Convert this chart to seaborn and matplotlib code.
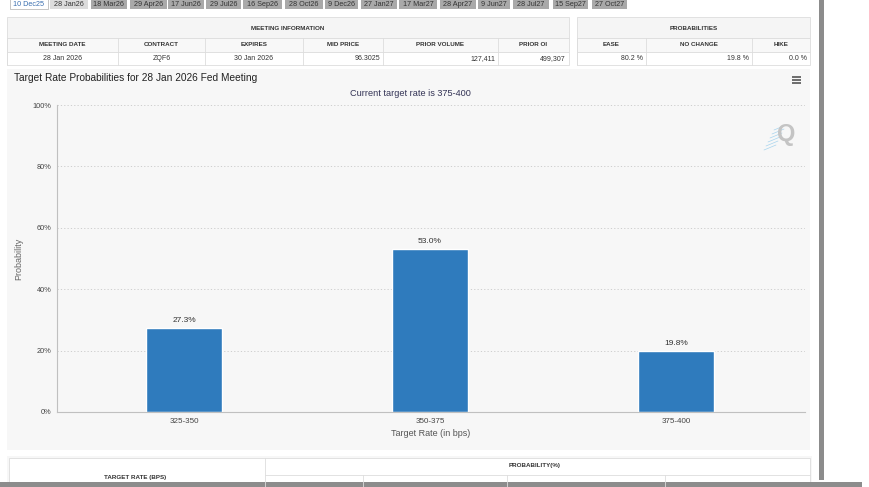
import matplotlib
matplotlib.use("Agg")
import matplotlib.pyplot as plt
from matplotlib.patches import Rectangle
import seaborn as sns
import pandas as pd

# data
tabs = ["10 Dec25", "28 Jan26", "18 Mar26", "29 Apr26", "17 Jun26", "29 Jul26",
        "16 Sep26", "28 Oct26", "9 Dec26", "27 Jan27", "17 Mar27", "28 Apr27",
        "9 Jun27", "28 Jul27", "15 Sep27", "27 Oct27"]
info_cols = ["MEETING DATE", "CONTRACT", "EXPIRES", "MID PRICE", "PRIOR VOLUME", "PRIOR OI"]
info_vals = ["28 Jan 2026", "ZQF6", "30 Jan 2026", "96.3025", "127,411", "499,307"]
prob_cols = ["EASE", "NO CHANGE", "HIKE"]
prob_vals = ["80.2 %", "19.8 %", "0.0 %"]
rates = ["325-350", "350-375", "375-400"]
probs = [27.3, 53.0, 19.8]
current_rate = "375-400"
meeting = "28 Jan 2026"

# page layout (pixels)
tab_x = [(10, 48), (50, 88), (91, 127), (130, 167), (168, 204), (206, 241), (243, 282),
         (285, 323), (325, 358), (361, 397), (399, 437), (440, 476), (478, 510),
         (513, 549), (553, 588), (592, 627)]
info_x = [7, 118, 205, 303, 383, 498, 569]
info_align = ["center", "center", "center", "right", "right", "right"]
prob_x = [577, 646, 752, 810]

sns.set_style("white")
plt.rcParams['font.family'] = ['Liberation Sans', 'DejaVu Sans']

fig = plt.figure(figsize=(8.7, 4.87), dpi=100)
fig.patch.set_facecolor("white")

bg = fig.add_axes([0, 0, 1, 1])
bg.set_xlim(0, 870)
bg.set_ylim(487, 0)
bg.axis("off")


def box(x0, y0, x1, y1, fc, ec="none", lw=0.6):
    bg.add_patch(Rectangle((x0, y0), x1 - x0, y1 - y0, facecolor=fc, edgecolor=ec, lw=lw))


# tabs
for i, (lab, (x0, x1)) in enumerate(zip(tabs, tab_x)):
    fc = "white" if i == 0 else ("#dcdcdc" if i == 1 else "#a9a9a9")
    tc = "#3a6fb0" if i == 0 else "#333333"
    box(x0, -2, x1, 9, fc, "#bbbbbb" if i == 0 else "none")
    bg.text((x0 + x1) / 2, 5.5, lab, ha="center", va="baseline", fontsize=5.2, color=tc)

# meeting information table
box(info_x[0], 17, info_x[-1], 38, "#f5f5f5", "#dddddd")
box(info_x[0], 38, info_x[-1], 52, "#f8f8f8", "#dddddd")
box(info_x[0], 52, info_x[-1], 65, "white", "#dddddd")
bg.text((info_x[0] + info_x[-1]) / 2, 28, "MEETING INFORMATION", ha="center", va="center",
        fontsize=4.5, fontweight="bold", color="#333")
for j, (c, v, al) in enumerate(zip(info_cols, info_vals, info_align)):
    x0, x1 = info_x[j], info_x[j + 1]
    bg.plot([x0, x0], [38, 65], color="#dddddd", lw=0.6)
    bg.text((x0 + x1) / 2, 45, c, ha="center", va="center", fontsize=4.5,
            fontweight="bold", color="#333")
    tx = (x0 + x1) / 2 if al == "center" else x1 - 3
    bg.text(tx, 58.5, v, ha=al, va="center", fontsize=5, color="#333")

# probabilities table
box(prob_x[0], 17, prob_x[-1], 38, "#f5f5f5", "#dddddd")
box(prob_x[0], 38, prob_x[-1], 52, "#f8f8f8", "#dddddd")
box(prob_x[0], 52, prob_x[-1], 65, "white", "#dddddd")
bg.text((prob_x[0] + prob_x[-1]) / 2, 28, "PROBABILITIES", ha="center", va="center",
        fontsize=4.5, fontweight="bold", color="#333")
for j, (c, v) in enumerate(zip(prob_cols, prob_vals)):
    x0, x1 = prob_x[j], prob_x[j + 1]
    bg.plot([x0, x0], [38, 65], color="#dddddd", lw=0.6)
    bg.text((x0 + x1) / 2, 45, c, ha="center", va="center", fontsize=4.5,
            fontweight="bold", color="#333")
    bg.text(x1 - 3, 58.5, v, ha="right", va="center", fontsize=5, color="#333")

# chart panel
box(7, 69, 810, 450, "#f7f7f7")
bg.text(14, 78, f"Target Rate Probabilities for {meeting} Fed Meeting", ha="left",
        va="center", fontsize=7.3, color="#222")
bg.text(410, 93, f"Current target rate is {current_rate}", ha="center", va="center",
        fontsize=6.6, color="#333355")
for yy in (77, 80, 83):
    bg.plot([792, 801], [yy, yy], color="#555", lw=1.2, solid_capstyle="butt")
bg.text(786, 134, "Q", ha="center", va="center", fontsize=17, fontweight="bold", color="#c4c4c4")
for k in range(6):
    bg.plot([764 + k * 2, 776 + k * 2], [150 - k * 4, 145 - k * 4], color="#a8d4ee", lw=0.5)

# bottom table
box(7, 456, 812, 487, "#f7f7f7")
box(9, 458, 810, 487, "white", "#dddddd")
bg.plot([265, 265], [458, 487], color="#dddddd", lw=0.6)
bg.plot([265, 810], [475, 475], color="#dddddd", lw=0.6)
for xx in (363, 507, 665):
    bg.plot([xx, xx], [475, 487], color="#dddddd", lw=0.6)
bg.text(135, 477, "TARGET RATE (BPS)", ha="center", va="center", fontsize=4.5,
        fontweight="bold", color="#333")
bg.text(535, 466, "PROBABILITY(%)", ha="center", va="center", fontsize=4.5,
        fontweight="bold", color="#333")

# scrollbars
box(819, 0, 824, 480, "#8c8c8c")
box(0, 482, 862, 487, "#8c8c8c")

# bar chart
ax = fig.add_axes([57 / 870, 1 - 412 / 487, (805 - 57) / 870, (412 - 105) / 487])
ax.set_facecolor("none")
df = pd.DataFrame({"rate": rates, "prob": probs})
sns.barplot(data=df, x="rate", y="prob", color="#2f7bbd", saturation=1, width=0.31, ax=ax)
ax.set_ylim(0, 100)
ax.set_xlim(-0.516, 2.524)
ax.set_yticks(range(0, 101, 20))
ax.set_yticklabels([f"{t}%" for t in range(0, 101, 20)])
ax.yaxis.grid(True, linestyle=(0, (1.5, 2.5)), color="#c8c8c8", lw=0.6)
ax.set_axisbelow(True)
for s in ("top", "right"):
    ax.spines[s].set_visible(False)
for s in ("left", "bottom"):
    ax.spines[s].set_color("#c0c0c0")
    ax.spines[s].set_linewidth(0.8)
ax.tick_params(axis="both", length=0, labelsize=5.3, colors="#444", pad=4)
ax.tick_params(axis="x", labelsize=5.8)
ax.set_xlabel("Target Rate (in bps)", fontsize=6.5, color="#555", labelpad=3)
ax.set_ylabel("Probability", fontsize=6.5, color="#666")
ax.yaxis.set_label_coords(-0.045, 0.5)
for c in ax.containers:
    ax.bar_label(c, labels=[f"{v:.1f}%" for v in probs], padding=3, fontsize=6, color="#333")

fig.savefig("out.png", dpi=100)
